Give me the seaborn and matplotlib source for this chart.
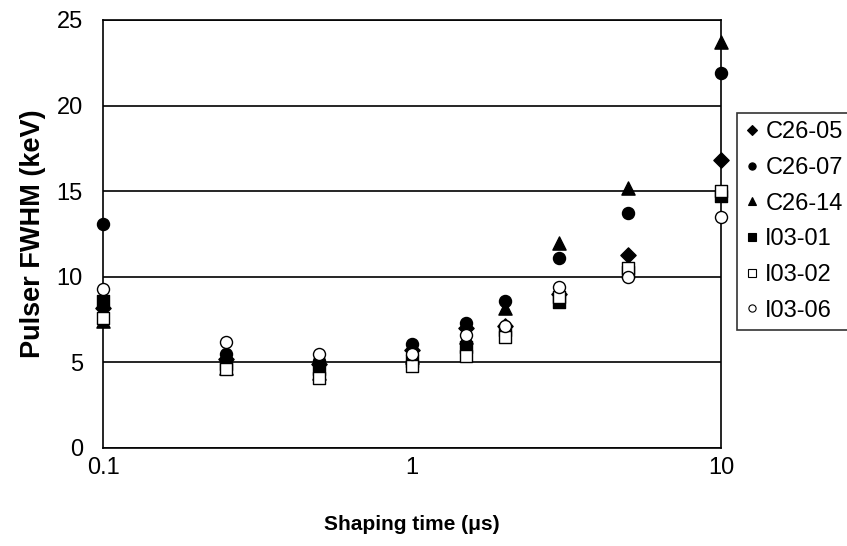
import matplotlib
matplotlib.use("Agg")
import matplotlib.pyplot as plt
from matplotlib.lines import Line2D
import seaborn as sns
import pandas as pd
import numpy as np

shaping_time = [0.1, 0.25, 0.5, 1, 1.5, 2, 3, 5, 10]
c26_05 = [8.2, 5.2, 4.9, 5.7, 7.0, 7.1, 9.0, 11.3, 16.8]
c26_07 = [13.1, 5.5, 5.1, 6.1, 7.3, 8.6, 11.1, 13.7, 21.9]
c26_14 = [7.4, 4.7, 4.4, 5.3, 6.5, 8.2, 12.0, 15.2, 23.7]
i03_01 = [8.6, 4.9, 4.6, 5.1, 5.9, 6.9, 8.5, 10.3, 14.7]
i03_02 = [7.6, 4.6, 4.1, 4.8, 5.4, 6.5, 8.8, 10.5, 15.0]
i03_06 = [9.3, 6.2, 5.5, 5.5, 6.6, 7.1, 9.4, 10.0, 13.5]

series_names = ["C26-05", "C26-07", "C26-14", "I03-01", "I03-02", "I03-06"]
series_values = [c26_05, c26_07, c26_14, i03_01, i03_02, i03_06]
y_ticks = [0, 5, 10, 15, 20, 25]
x_ticks = [0.1, 1, 10]
x_tick_labels = ["0.1", "1", "10"]

styles = {
    "C26-05": dict(marker="D", s=60, facecolor="black", ms=6.5),
    "C26-07": dict(marker="o", s=75, facecolor="black", ms=6.5),
    "C26-14": dict(marker="^", s=90, facecolor="black", ms=7.5),
    "I03-01": dict(marker="s", s=75, facecolor="black", ms=6.5),
    "I03-02": dict(marker="s", s=75, facecolor="white", ms=6.5),
    "I03-06": dict(marker="o", s=75, facecolor="white", ms=6.5),
}

rows = []
for name, vals in zip(series_names, series_values):
    for x, y in zip(shaping_time, vals):
        rows.append({"series": name, "t": x, "fwhm": y})
df = pd.DataFrame(rows)

sns.set_style("white")
plt.rcParams["font.family"] = ["Liberation Sans", "DejaVu Sans"]
plt.rcParams["text.color"] = "black"
plt.rcParams["axes.labelcolor"] = "black"
plt.rcParams["xtick.color"] = "black"
plt.rcParams["ytick.color"] = "black"

fig = plt.figure(figsize=(8.47, 5.46), dpi=100)
ax = fig.add_axes([103 / 847, 1 - 448 / 546, (721 - 103) / 847, (448 - 20) / 546])

for name in series_names:
    st = styles[name]
    sub = df[df["series"] == name]
    sns.scatterplot(data=sub, x="t", y="fwhm", ax=ax, marker=st["marker"], s=st["s"],
                    color=st["facecolor"], edgecolor="black", linewidth=1.0,
                    zorder=3, clip_on=False, legend=False)

ax.set_xscale("log")
ax.set_xlim(0.1, 10)
ax.set_ylim(0, 25)
ax.set_yticks(y_ticks)
ax.set_xticks(x_ticks)
ax.set_xticklabels(x_tick_labels)
ax.yaxis.grid(True, color="black", linewidth=1.2)
ax.set_axisbelow(True)
for sp in ax.spines.values():
    sp.set_visible(True)
    sp.set_color("black")
    sp.set_linewidth(1.2)

ax.tick_params(axis="both", which="major", direction="out", length=5.5, width=1.2,
               labelsize=17, color="black", labelcolor="black")
ax.tick_params(axis="y", which="major", pad=9)
ax.tick_params(axis="x", which="minor", direction="out", length=3.5, width=1.0, color="black")
ax.tick_params(axis="x", which="major", pad=1)
ax.tick_params(axis="y", which="both", right=False)
ax.tick_params(axis="x", which="both", top=False)

ax.set_xlabel("Shaping time (\u03bcs)", fontsize=15, fontweight="bold", labelpad=26)
ax.set_ylabel("Pulser FWHM (keV)", fontsize=19.5, fontweight="bold", labelpad=8)

handles = [Line2D([], [], linestyle="none", marker=styles[n]["marker"], markersize=styles[n]["ms"] * 0.8,
                  markerfacecolor=styles[n]["facecolor"], markeredgecolor="black", markeredgewidth=0.8)
           for n in series_names]
leg = fig.legend(handles, series_names, loc="upper left", bbox_to_anchor=(737 / 847, 1 - 113 / 546),
                 bbox_transform=fig.transFigure, fontsize=17, frameon=True, fancybox=False,
                 edgecolor="black", handlelength=0.6, handletextpad=0.25, labelspacing=0.58,
                 borderpad=0.35, borderaxespad=0)
leg.get_frame().set_linewidth(1.2)

fig.savefig("out.png", dpi=100, facecolor="white")
